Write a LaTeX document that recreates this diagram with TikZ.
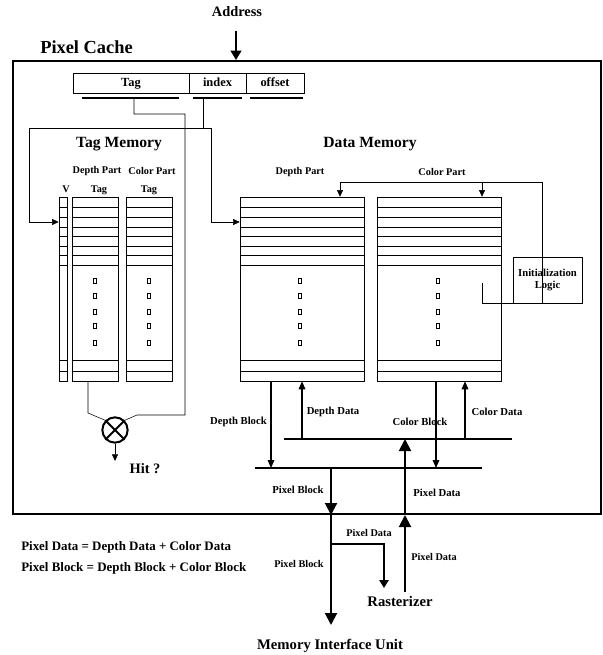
\documentclass[tikz,border=0pt]{standalone}
\usepackage{fontspec}
\setmainfont{Liberation Serif}
\usetikzlibrary{arrows.meta,positioning,calc}

\newcommand{\bfs}[1]{\bfseries\fontsize{#1}{#1}\selectfont}

\begin{document}
\begin{tikzpicture}[x=0.75pt, y=-0.75pt,
    txt/.style={font=\bfs{7.7}, inner sep=0pt},
    lbl/.style={font=\bfs{8}, inner sep=0pt},
    ttl/.style={font=\bfs{11.7}, inner sep=0pt},
    big/.style={font=\bfs{11}, inner sep=0pt},
    field/.style={draw, minimum height=15pt, inner sep=0pt, outer sep=0pt, text height=6.5pt, text depth=1.8pt, font=\bfs{9.3}},
    col/.style={draw, minimum height=138pt, inner sep=0pt},
    sq/.style={draw, minimum width=2.6pt, minimum height=3.2pt, inner sep=0pt, line width=0.6pt},
    bus/.style={line width=1.5pt},
    fat/.style={line width=1.5pt, -{Triangle[width=9pt,length=9pt]}},
    med/.style={line width=0.8pt, -{Triangle[width=5pt,length=6pt]}},
    tip/.style={-{Triangle[width=4.5pt,length=5pt]}}]
\useasboundingbox (0,0) rectangle (602,655);

% cache frame and address
\node[draw, line width=1.5pt, minimum width=441pt, minimum height=339.75pt, inner sep=0pt] (cache) at (307,287.5) {};
\node[font=\bfs{10.8}, inner sep=0pt] (addr) at (237,12) {Address};
\node[font=\bfs{13.8}, inner sep=0pt, anchor=west] (pctitle) at (40,47) {Pixel Cache};
\draw[line width=1.5pt, -{Triangle[width=8pt,length=7pt]}] (236,31) -- (cache.north -| 236,0);

% address fields
\node[field, minimum width=87pt] (ftag) at (131,83) {Tag};
\node[field, minimum width=42.75pt, right=0pt of ftag] (findex) {index};
\node[field, minimum width=43.5pt, right=0pt of findex] (foff) {offset};
\draw[bus] (82,98) -- (179,98);
\draw[bus] (193,98) -- (242,98);
\draw[bus] (250,98) -- (303,98);
\coordinate (utag) at (134,98);
\coordinate (uidx) at (203,98);
\coordinate (ix) at (203,128);

% titles
\node[ttl] (tmt) at (119,144) {Tag Memory};
\node[ttl] (dmt) at (370,144) {Data Memory};
\node[txt] (tdp) at (97,171) {Depth Part};
\node[txt] (tcp) at (152,171) {Color Part};
\node[txt] (tv) at (66,189) {V};
\node[txt] (tdt) at (99,190) {Tag};
\node[txt] (tct) at (149,190) {Tag};
\node[txt] (ddp) at (300,172) {Depth Part};
\node[txt] (dcp) at (442,172) {Color Part};

% memory columns
\node[col, minimum width=6pt] (vcol) at (63,289) {};
\node[col, minimum width=34.5pt] (dtag) at (95,289) {};
\node[col, minimum width=34.5pt] (ctag) at (149,289) {};
\node[col, minimum width=93pt] (dmem) at (302,289) {};
\node[col, minimum width=93pt] (cmem) at (439,289) {};
\foreach \c in {vcol,dtag,ctag,dmem,cmem}
  \foreach \y in {207,217,227,236,246,255,265,360,371}
    \draw (\c.west |- 0,\y) -- (\c.east |- 0,\y);
\foreach \x in {95,149,300,438}
  \foreach \y in {281,296,312,326,343}
    \node[sq] (d-\x-\y) at (\x,\y) {};

% index and tag lines
\draw (uidx) -- (ix);
\draw[tip] (ix) -| (29,222) -- (vcol.west |- 0,222);
\draw[tip] (ix) -| (211,222) -- (dmem.west |- 0,222);
\node[circle, draw, line width=1.5pt, minimum size=19pt, inner sep=0pt] (xor) at (115,430) {};
\draw[line width=1.5pt] (xor.north west) -- (xor.south east) (xor.north east) -- (xor.south west);
\draw (utag) -- (134,114) -- (185,114) -- (185,415) -- (137,415) -- (xor.north east);
\draw (dtag.south -| 88,0) -- (88,413) -- (xor.north west);
\coordinate (hitend) at (115,461);
\draw[tip] (xor.south) -- (hitend);
\node[font=\bfs{10.8}, inner sep=0pt] (hit) at (145,469) {Hit ?};

% initialization logic
\node[draw, minimum width=51.75pt, minimum height=34.5pt, inner sep=0pt, align=center, font=\bfs{8}] (init) at (547.5,280) {Initialization\\[1pt]Logic};
\draw[tip] (482,283) -- (482,303) -- (542,303) -- (542,182) -- (340,182) -- (dmem.north -| 340,0);
\draw[tip] (482,182) -- (cmem.north -| 482,0);

% buses
\coordinate (ub1) at (284,439);
\coordinate (ub2) at (512,439);
\coordinate (lb1) at (255,468);
\coordinate (lb2) at (482,468);
\draw[bus] (ub1) -- (ub2);
\draw[bus] (lb1) -- (lb2);
\draw[med] (dmem.south -| 271,0) -- (lb1 -| 271,0);
\draw[med] (ub1 -| 302,0) -- (dmem.south -| 302,0);
\draw[med] (cmem.south -| 436,0) -- (lb1 -| 436,0);
\draw[med] (ub1 -| 465,0) -- (cmem.south -| 465,0);
\node[lbl, anchor=east] (ldb) at (267,422) {Depth Block};
\node[lbl] (ldd) at (333,412) {Depth Data};
\node[lbl] (lcb) at (420,422) {Color Block};
\node[lbl] (lcd) at (497,412) {Color Data};

% pixel paths
\coordinate (mtip) at (331,625);
\coordinate (rtail) at (405,592);
\draw[fat] (lb1 -| 331,0) -- (cache.south -| 331,0);
\draw[fat] (cache.south -| 331,0) -- (mtip);
\draw[fat] (cache.south -| 405,0) -- (ub1 -| 405,0);
\draw[fat] (rtail) -- (cache.south -| 405,0);
\draw[line width=1.2pt, -{Triangle[width=7pt,length=6pt]}] (331,544) -| (384,588);
\node[lbl] (lpb) at (298,490) {Pixel Block};
\node[lbl] (lpd) at (437,493) {Pixel Data};
\node[txt] (opd1) at (369,533) {Pixel Data};
\node[txt] (opd2) at (434,557) {Pixel Data};
\node[txt] (opb) at (299,564) {Pixel Block};
\node[big] (rast) at (400,601) {Rasterizer};
\node[big] (miu) at (330,646) {Memory Interface Unit};

% legend
\node[font=\bfs{9.7}, inner sep=0pt, anchor=west] (eq1) at (21,547) {Pixel Data = Depth Data + Color Data};
\node[font=\bfs{9.7}, inner sep=0pt, anchor=west] (eq2) at (21,568) {Pixel Block = Depth Block + Color Block};
\end{tikzpicture}
\end{document}
